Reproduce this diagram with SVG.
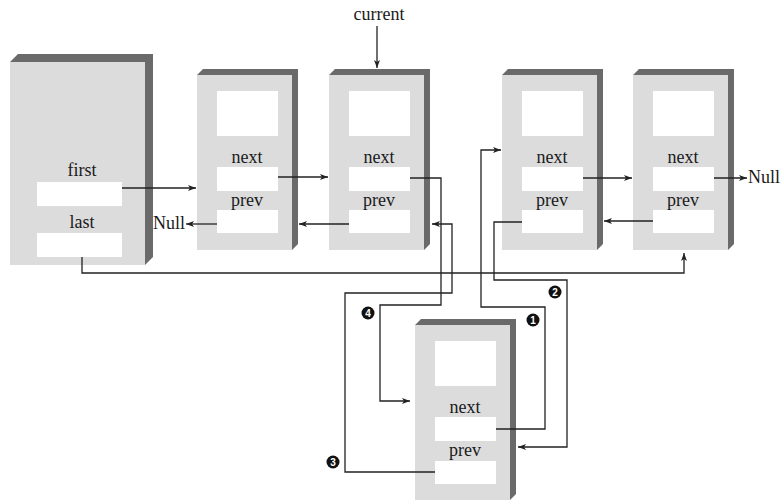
<svg xmlns="http://www.w3.org/2000/svg" width="782" height="500" viewBox="0 0 782 500">
<defs>
<style>
.sh{fill:#6a6a6b}
.fr{fill:#dcdcdd}
.fd{fill:#ffffff}
.t{font-family:"Liberation Serif","Times New Roman",serif;font-size:18px;fill:#1a1a1a}
.c{fill:none;stroke:#222;stroke-width:1.3}
.num{fill:#111}
.nt{font-family:"Liberation Sans",Arial,sans-serif;font-size:10px;font-weight:bold;fill:#fff}
</style>
<marker id="ah" markerWidth="8" markerHeight="6" refX="8" refY="3" orient="auto" markerUnits="userSpaceOnUse">
<path d="M0,0 L8,3 L0,6 L2,3 z" fill="#222"/>
</marker>
</defs>
<rect width="782" height="500" fill="#fff"/>

<g id="list">
<polygon class="sh" points="10,62 18,54 153,54 153,257 145,265 145,62"/>
<rect class="fr" x="10" y="62" width="135" height="203"/>
<text class="t" x="82" y="176" text-anchor="middle">first</text>
<rect class="fd" x="37" y="182" width="85" height="24"/>
<text class="t" x="82" y="228" text-anchor="middle">last</text>
<rect class="fd" x="37" y="233" width="85" height="24"/>
</g>

<g id="node1">
<polygon class="sh" points="197,75 203,69 298,69 298,244 292,250 292,75"/>
<rect class="fr" x="197" y="75" width="95" height="175"/>
<rect class="fd" x="217" y="91" width="61" height="45"/>
<text class="t" x="247" y="163" text-anchor="middle">next</text>
<rect class="fd" x="217" y="167" width="61" height="24"/>
<text class="t" x="247" y="206" text-anchor="middle">prev</text>
<rect class="fd" x="217" y="210" width="61" height="23"/>
</g>

<g id="node2">
<polygon class="sh" points="329,75 335,69 430,69 430,244 424,250 424,75"/>
<rect class="fr" x="329" y="75" width="95" height="175"/>
<rect class="fd" x="349" y="91" width="61" height="45"/>
<text class="t" x="379" y="163" text-anchor="middle">next</text>
<rect class="fd" x="349" y="167" width="61" height="24"/>
<text class="t" x="379" y="206" text-anchor="middle">prev</text>
<rect class="fd" x="349" y="210" width="61" height="23"/>
</g>

<g id="node3">
<polygon class="sh" points="502,75 508,69 603,69 603,244 597,250 597,75"/>
<rect class="fr" x="502" y="75" width="95" height="175"/>
<rect class="fd" x="522" y="91" width="61" height="45"/>
<text class="t" x="552" y="163" text-anchor="middle">next</text>
<rect class="fd" x="522" y="167" width="61" height="24"/>
<text class="t" x="552" y="206" text-anchor="middle">prev</text>
<rect class="fd" x="522" y="210" width="61" height="23"/>
</g>

<g id="node4">
<polygon class="sh" points="633,75 639,69 734,69 734,244 728,250 728,75"/>
<rect class="fr" x="633" y="75" width="95" height="175"/>
<rect class="fd" x="653" y="91" width="61" height="45"/>
<text class="t" x="683" y="163" text-anchor="middle">next</text>
<rect class="fd" x="653" y="167" width="61" height="24"/>
<text class="t" x="683" y="206" text-anchor="middle">prev</text>
<rect class="fd" x="653" y="210" width="61" height="23"/>
</g>

<g id="node5">
<polygon class="sh" points="415,325 421,319 516,319 516,494 510,500 510,325"/>
<rect class="fr" x="415" y="325" width="95" height="175"/>
<rect class="fd" x="435" y="341" width="61" height="45"/>
<text class="t" x="465" y="413" text-anchor="middle">next</text>
<rect class="fd" x="435" y="417" width="61" height="24"/>
<text class="t" x="465" y="456" text-anchor="middle">prev</text>
<rect class="fd" x="435" y="461" width="61" height="23"/>
</g>

<g id="labels">
<text class="t" x="379" y="20" text-anchor="middle">current</text>
<text class="t" x="153" y="229">Null</text>
<text class="t" x="748" y="183">Null</text>
</g>

<g id="connectors">
<path class="c" d="M377,26 V68" marker-end="url(#ah)"/>
<path class="c" d="M122,188 H196" marker-end="url(#ah)"/>
<path class="c" d="M278,177 H328" marker-end="url(#ah)"/>
<path class="c" d="M217,224 H186" marker-end="url(#ah)"/>
<path class="c" d="M349,224 H299" marker-end="url(#ah)"/>
<path class="c" d="M583,178 H632" marker-end="url(#ah)"/>
<path class="c" d="M653,221 H604" marker-end="url(#ah)"/>
<path class="c" d="M714,178 H747" marker-end="url(#ah)"/>
<path class="c" d="M82,257 V273 H684 V253" marker-end="url(#ah)"/>
<path class="c" d="M410,178 H441 V305 H380 V401 H410" marker-end="url(#ah)"/>
<path class="c" d="M435,472 H345 V293 H452 V224 H432" marker-end="url(#ah)"/>
<path class="c" d="M496,429 H545 V307 H481 V150 H501" marker-end="url(#ah)"/>
<path class="c" d="M522,222 H494 V280 H567 V447 H518" marker-end="url(#ah)"/>
</g>

<g id="step1"><circle class="num" cx="533" cy="320" r="6.5"/><text class="nt" x="533" y="323.5" text-anchor="middle">1</text></g>
<g id="step2"><circle class="num" cx="555" cy="292" r="6.5"/><text class="nt" x="555" y="295.5" text-anchor="middle">2</text></g>
<g id="step3"><circle class="num" cx="333" cy="462" r="6.5"/><text class="nt" x="333" y="465.5" text-anchor="middle">3</text></g>
<g id="step4"><circle class="num" cx="368" cy="313" r="6.5"/><text class="nt" x="368" y="316.5" text-anchor="middle">4</text></g>
</svg>
